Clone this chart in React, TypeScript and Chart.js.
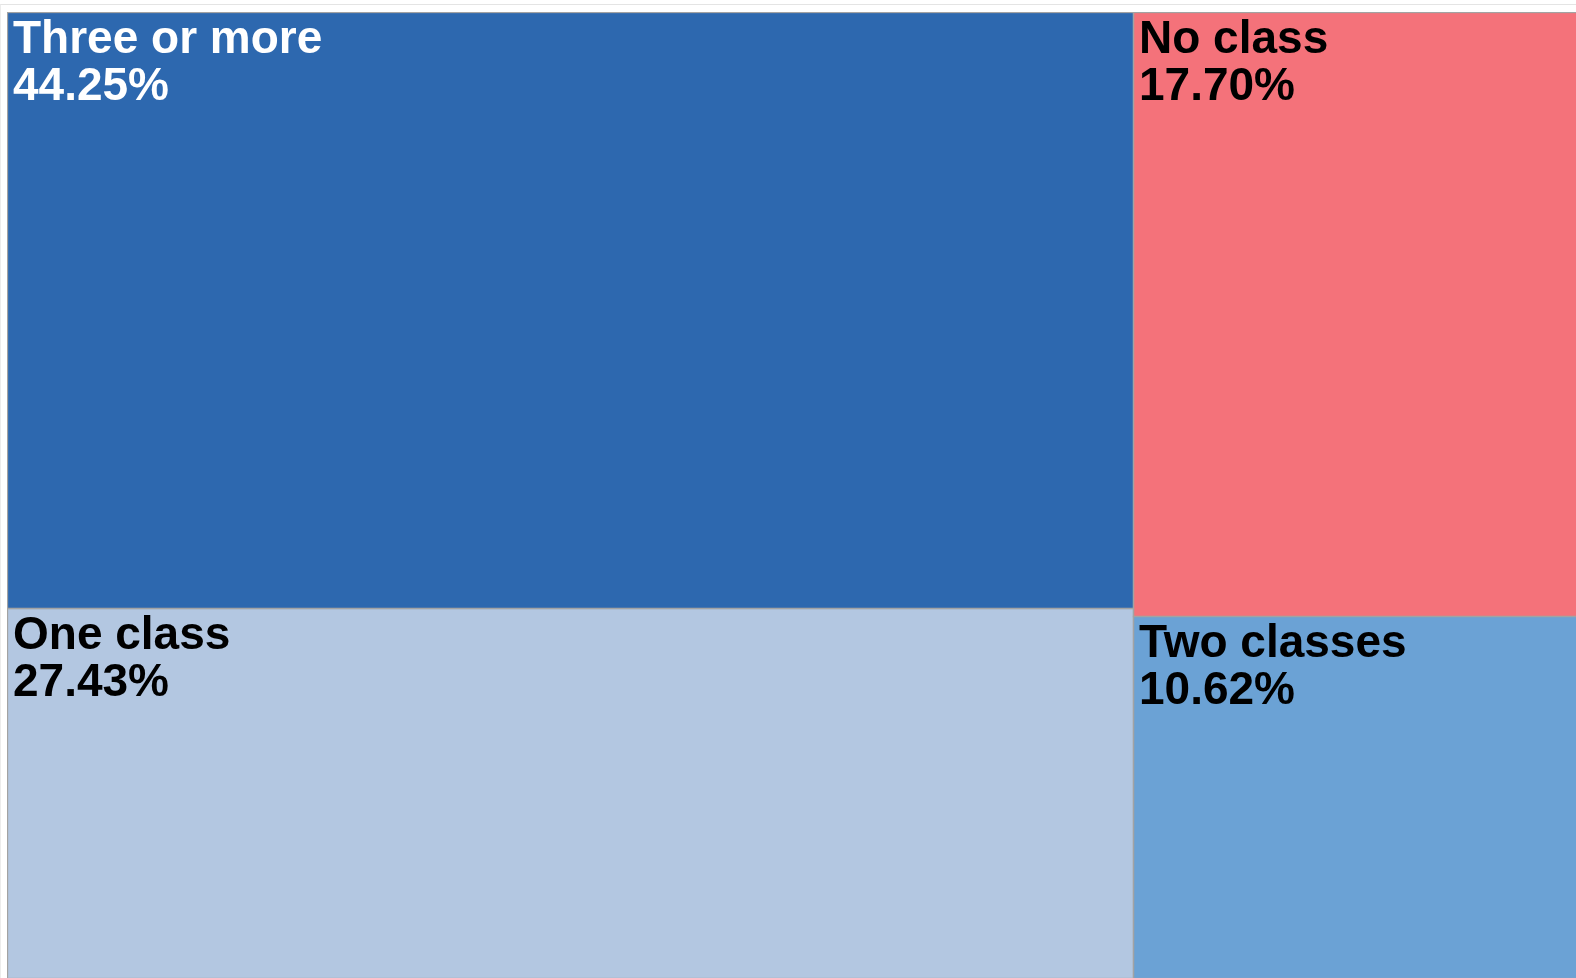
import React, { useEffect, useRef } from "react";
import { Chart, registerables } from "chart.js";

Chart.register(...registerables);

const categories = ["Three or more", "One class", "No class", "Two classes"];
const shares = [44.25, 27.43, 17.7, 10.62];
const fillColors = ["#2d68af", "#b3c7e1", "#f4727a", "#6ba2d5"];
const textColors = ["#ffffff", "#000000", "#000000", "#000000"];

type Cell = { i: number; x0: number; y0: number; x1: number; y1: number };

// d3-style squarified layout (golden ratio), computed in unit space with pixel aspect
function squarify(values: number[], pw: number, ph: number): Cell[] {
  const ratio = (1 + Math.sqrt(5)) / 2;
  const order = values.map((v, i) => i).sort((a, b) => values[b] - values[a]);
  const out: Cell[] = [];
  let x0 = 0, y0 = 0, x1 = 1, y1 = 1;
  let value = order.reduce((s, i) => s + values[i], 0);
  let i0 = 0, i1 = 0;
  const n = order.length;
  while (i0 < n) {
    const dx = (x1 - x0) * pw, dy = (y1 - y0) * ph;
    let sumValue = values[order[i1++]];
    let minValue = sumValue, maxValue = sumValue;
    const alpha = Math.max(dy / dx, dx / dy) / (value * ratio);
    let beta = sumValue * sumValue * alpha;
    let minRatio = Math.max(maxValue / beta, beta / minValue);
    for (; i1 < n; ++i1) {
      const nv = values[order[i1]];
      sumValue += nv;
      if (nv < minValue) minValue = nv;
      if (nv > maxValue) maxValue = nv;
      beta = sumValue * sumValue * alpha;
      const newRatio = Math.max(maxValue / beta, beta / minValue);
      if (newRatio > minRatio) { sumValue -= nv; break; }
      minRatio = newRatio;
    }
    const row = order.slice(i0, i1);
    const dice = dx < dy;
    if (dice) {
      const ny = y0 + (y1 - y0) * sumValue / value;
      let cx = x0;
      row.forEach((idx) => {
        const w = (x1 - x0) * values[idx] / sumValue;
        out.push({ i: idx, x0: cx, y0: y0, x1: cx + w, y1: ny });
        cx += w;
      });
      y0 = ny;
    } else {
      const nx = x0 + (x1 - x0) * sumValue / value;
      let cy = y0;
      row.forEach((idx) => {
        const h = (y1 - y0) * values[idx] / sumValue;
        out.push({ i: idx, x0: x0, y0: cy, x1: nx, y1: cy + h });
        cy += h;
      });
      x0 = nx;
    }
    value -= sumValue;
    i0 = i1;
  }
  return out;
}

const treemapPlugin = {
  id: "treemapCells",
  afterDatasetsDraw(chart: any) {
    const xs = chart.scales.x;
    const ys = chart.scales.y;
    const area = chart.chartArea;
    const cells = squarify(shares, area.right - area.left, area.bottom - area.top);
    const ctx = chart.ctx;
    ctx.save();
    const boxes = cells.map((c) => ({
      c,
      left: Math.round(xs.getPixelForValue(c.x0)) + 0.5,
      right: Math.round(xs.getPixelForValue(c.x1)) + 0.5,
      top: Math.round(ys.getPixelForValue(c.y0)) + 0.5,
      bottom: Math.round(ys.getPixelForValue(c.y1)) + 0.5,
    }));
    boxes.forEach((b) => {
      ctx.fillStyle = fillColors[b.c.i];
      ctx.fillRect(b.left, b.top, b.right - b.left, b.bottom - b.top);
    });
    boxes.forEach((b) => {
      ctx.strokeStyle = "#a3a3a3";
      ctx.lineWidth = 1.3;
      ctx.strokeRect(b.left, b.top, b.right - b.left, b.bottom - b.top);
    });
    boxes.forEach((b) => {
      ctx.fillStyle = textColors[b.c.i];
      ctx.font = "bold 46px 'Liberation Sans', Arial, Helvetica, sans-serif";
      ctx.textBaseline = "alphabetic";
      ctx.textAlign = "left";
      ctx.fillText(categories[b.c.i], b.left + 5.5, b.top + 40.5);
      ctx.fillText(shares[b.c.i].toFixed(2) + "%", b.left + 5.5, b.top + 87.5);
    });
    ctx.restore();
  },
};

export default function App() {
  const canvasRef = useRef<HTMLCanvasElement | null>(null);

  useEffect(() => {
    if (!canvasRef.current) return;
    const chart = new Chart(canvasRef.current, {
      type: "scatter",
      data: {
        labels: categories,
        datasets: [{ label: "share", data: [], pointRadius: 0, showLine: false }],
      },
      options: {
        responsive: false,
        animation: false,
        layout: { padding: 0 },
        scales: {
          x: { type: "linear", min: 0, max: 1, display: false },
          y: { type: "linear", min: 0, max: 1, reverse: true, display: false },
        },
        plugins: {
          legend: { display: false },
          tooltip: { enabled: false },
          title: { display: false },
        },
      },
      plugins: [treemapPlugin],
    });
    return () => chart.destroy();
  }, []);

  return (
    <div
      style={{
        position: "fixed",
        left: 0,
        top: 0,
        width: 1576,
        height: 978,
        overflow: "hidden",
        background: "#ffffff",
      }}
    >
      <div
        style={{
          position: "absolute",
          left: 0,
          top: 4,
          width: 1600,
          height: 1000,
          borderTop: "1px solid #e4e4e4",
          borderLeft: "1px solid #ececec",
        }}
      />
      <canvas
        ref={canvasRef}
        width={1571}
        height={966}
        style={{ position: "absolute", left: 7, top: 12, width: 1571, height: 966 }}
      />
    </div>
  );
}
